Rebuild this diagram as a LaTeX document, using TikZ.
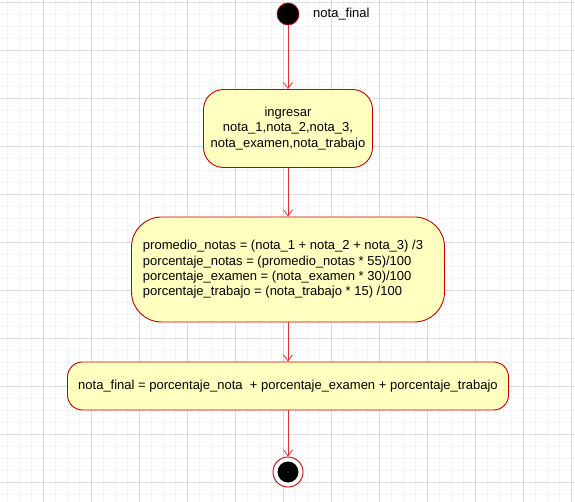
\documentclass[tikz,border=0pt]{standalone}
\usepackage{fontspec}
\setmainfont{Liberation Sans}
\usetikzlibrary{arrows.meta}
\definecolor{boxfill}{HTML}{FFFFC0}
\definecolor{boxline}{HTML}{C80000}
\definecolor{edgecol}{HTML}{E03030}
\definecolor{gridmajor}{HTML}{DADADA}
\definecolor{gridminor}{HTML}{F4F4F4}
\tikzset{
  actbox/.style={draw=boxline, fill=boxfill, line width=0.9pt, inner sep=0pt,
    font=\fontsize{13}{15.3}\selectfont, align=center},
  flow/.style={draw=edgecol, line width=0.8pt, -{Straight Barb[length=6pt,width=9pt]}},
}
\begin{document}
\begin{tikzpicture}[x=1pt,y=-1pt]
\useasboundingbox (0,0) rectangle (575,502);
\fill[white] (0,0) rectangle (575,502);
% grid
\foreach \x in {7,19,...,575} \draw[gridminor, line width=0.6pt] (\x,0) -- (\x,502);
\foreach \y in {2.5,14.5,...,502} \draw[gridminor, line width=0.6pt] (0,\y) -- (575,\y);
\foreach \x in {43,91,...,575} \draw[gridmajor, line width=0.7pt] (\x,0) -- (\x,502);
\foreach \y in {2.5,50.5,...,502} \draw[gridmajor, line width=0.7pt] (0,\y) -- (575,\y);

% start
\node[circle, fill=black, draw=boxline, line width=0.6pt, minimum size=22pt, inner sep=0pt] (start) at (288,14) {};
\node[anchor=west, font=\fontsize{13}{15.3}\selectfont, inner sep=0pt] (lbl) at (313,14) {nota\_final};

\node[actbox, rounded corners=20pt, minimum width=169pt, minimum height=78pt] (b1) at (288,128.5)
  {ingresar\\nota\_1,nota\_2,nota\_3,\\nota\_examen,nota\_trabajo};

\node[actbox, rounded corners=30pt, minimum width=313pt, minimum height=105pt, align=left] (b2) at (288,269.5)
  {promedio\_notas = (nota\_1 + nota\_2 + nota\_3) /3\hspace*{10pt}\\
   porcentaje\_notas = (promedio\_notas * 55)/100\\
   porcentaje\_examen = (nota\_examen * 30)/100\\
   porcentaje\_trabajo = (nota\_trabajo * 15) /100};

\node[actbox, rounded corners=15pt, minimum width=441pt, minimum height=48pt] (b3) at (288,386)
  {nota\_final = porcentaje\_nota~ + porcentaje\_examen + porcentaje\_trabajo};

% end
\node[circle, draw=boxline, fill=white, line width=0.9pt, minimum size=30pt, inner sep=0pt] (end) at (288,472) {};
\fill[black] (end.center) circle (10.5pt);

\draw[flow] (start) -- (b1);
\draw[flow] (b1) -- (b2);
\draw[flow] (b2) -- (b3);
\draw[flow] (b3) -- (end);
\end{tikzpicture}
\end{document}
